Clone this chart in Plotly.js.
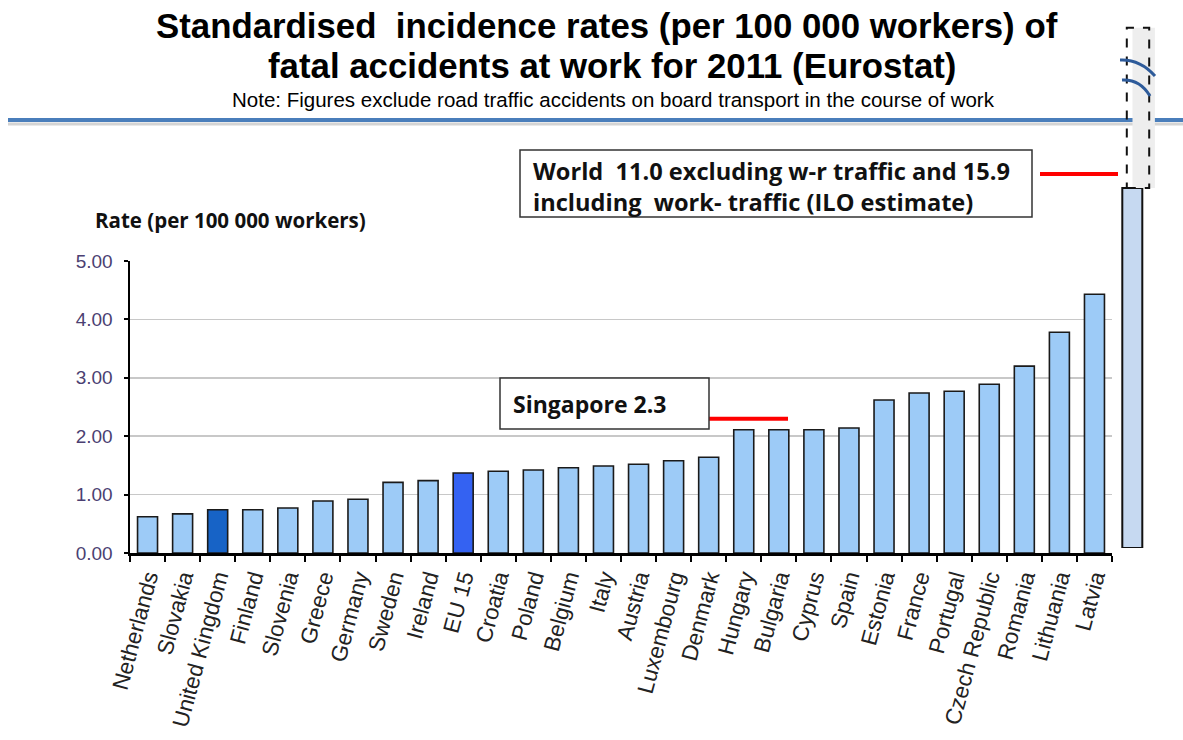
<!DOCTYPE html>
<html><head><meta charset="utf-8">
<script src="https://cdn.plot.ly/plotly-3.0.1.min.js"></script>
<style>body{margin:0;background:#fff}#chart{width:1183px;height:740px}</style>
</head><body><div id="chart"></div>
<script>
// ---- data ----
const countries = ['Netherlands','Slovakia','United Kingdom','Finland','Slovenia','Greece','Germany','Sweden','Ireland','EU 15','Croatia','Poland','Belgium','Italy','Austria','Luxembourg','Denmark','Hungary','Bulgaria','Cyprus','Spain','Estonia','France','Portugal','Czech Republic','Romania','Lithuania','Latvia'];
const rates = [0.62,0.67,0.74,0.74,0.77,0.89,0.92,1.21,1.24,1.37,1.40,1.42,1.46,1.49,1.52,1.58,1.64,2.11,2.11,2.11,2.14,2.62,2.74,2.77,2.89,3.20,3.78,4.43];
const yTickVals = [0,1,2,3,4,5];
const yTickText = ['0.00','1.00','2.00','3.00','4.00','5.00'];
const worldCat = ['World'];
const worldExcl = [11.0];
const worldIncl = [15.9];
const singaporeRate = 2.3;

// ---- helpers (pixel -> paper) ----
const L = 130, R = 20, T = 10, B = 187, W = 1183, H = 740;
const PW = W - L - R, PH = H - T - B;
const px = v => (v - L) / PW;
const py = v => (H - B - v) / PH;

const barColors = countries.map(c => c === 'United Kingdom' ? '#1763c6' : (c === 'EU 15' ? '#3462f2' : '#9dcbf7'));

const traces = [
  {type:'bar', x: countries, y: rates, xaxis:'x', yaxis:'y',
   marker:{color: barColors, line:{color:'#1a1a1a', width:1.6}}, hoverinfo:'x+y'},
  {type:'bar', x: worldCat, y: worldExcl, xaxis:'x2', yaxis:'y2', width:[0.5],
   marker:{color:'#c6d9f1', line:{color:'#111', width:2}}},
  {type:'bar', x: worldCat, y: [worldIncl[0]-worldExcl[0]], base: worldExcl, xaxis:'x2', yaxis:'y2', width:[0.56],
   marker:{color:'#eeeeee', line:{width:0}}}
];

const titleFont = {family:'Liberation Sans, Arial, sans-serif', size:34.8, color:'#000'};
const boxFont = {family:'Open Sans, sans-serif', size:23.6, color:'#111'};

const layout = {
  width: W, height: H,
  margin:{l:L, r:R, t:T, b:B},
  paper_bgcolor:'#fff', plot_bgcolor:'rgba(0,0,0,0)',
  showlegend:false, bargap:0.43,
  xaxis:{domain:[0, px(1112)], type:'category', tickson:'boundaries', ticks:'outside', ticklen:6, tickwidth:2, tickcolor:'#000',
         showline:true, linewidth:2.5, linecolor:'#000', tickangle:-75, showgrid:false,
         tickfont:{family:'Liberation Sans, Arial, sans-serif', size:22.5, color:'#222'}},
  yaxis:{domain:[0, py(261)], range:[0,5], tickvals:yTickVals, ticktext:yTickText, ticks:'outside', ticklen:4, tickwidth:2, tickcolor:'#000',
         ticklabelstandoff:7,
         showline:true, linewidth:2.5, linecolor:'#000', gridcolor:'#c8c8c8', gridwidth:1.5, zeroline:false,
         tickfont:{family:'Liberation Sans, Arial, sans-serif', size:19, color:'#4b3f72'}},
  xaxis2:{domain:[px(1118), px(1158)], anchor:'y2', type:'category', visible:false},
  yaxis2:{domain:[py(548), py(10)], range:[0, 16.44], anchor:'x2', visible:false},
  shapes:[
    {type:'line', xref:'paper', yref:'paper', x0:px(8), x1:px(1183), y0:py(124), y1:py(124), line:{color:'#d4d4d4', width:3}, layer:'below'},
    {type:'line', xref:'paper', yref:'paper', x0:px(8), x1:px(1183), y0:py(120), y1:py(120), line:{color:'#4a7ebb', width:4}, layer:'below'},
    {type:'rect', xref:'x2', yref:'y2', x0:-0.28, x1:0.28, y0:worldExcl[0], y1:worldIncl[0], line:{color:'#111', width:2, dash:'dash'}},
    {type:'path', xref:'paper', yref:'paper', line:{color:'#2e5b9a', width:3},
     path:`M ${px(1120)} ${py(60)} Q ${px(1140)} ${py(59)} ${px(1155)} ${py(76)}`},
    {type:'path', xref:'paper', yref:'paper', line:{color:'#2e5b9a', width:3},
     path:`M ${px(1122)} ${py(80)} Q ${px(1140)} ${py(79)} ${px(1150)} ${py(96)}`},
    {type:'line', xref:'paper', yref:'paper', x0:px(1040), x1:px(1118), y0:py(174), y1:py(174), line:{color:'#ff0000', width:4}},
    {type:'line', xref:'paper', yref:'y', x0:px(678), x1:px(788), y0:singaporeRate, y1:singaporeRate, line:{color:'#ff0000', width:4}},
    {type:'rect', xref:'paper', yref:'paper', x0:px(520), x1:px(1032), y0:py(150), y1:py(217), line:{color:'#333', width:1.5}, fillcolor:'#fff'},
    {type:'rect', xref:'paper', yref:'paper', x0:px(500), x1:px(709), y0:py(378), y1:py(429), line:{color:'#333', width:1.5}, fillcolor:'#fff'}
  ],
  annotations:[
    {xref:'paper', yref:'paper', x:px(607), y:py(25), xanchor:'center', yanchor:'middle', showarrow:false,
     text:'<b>Standardised\u00a0 incidence rates (per 100 000 workers) of</b>', font:titleFont},
    {xref:'paper', yref:'paper', x:px(612), y:py(66), xanchor:'center', yanchor:'middle', showarrow:false,
     text:'<b>fatal accidents at work for 2011 (Eurostat)</b>', font:titleFont},
    {xref:'paper', yref:'paper', x:px(613), y:py(99), xanchor:'center', yanchor:'middle', showarrow:false,
     text:'Note: Figures exclude road traffic accidents on board transport in the course of work', font:{family:'Liberation Sans, Arial, sans-serif', size:20.5, color:'#000'}},
    {xref:'paper', yref:'paper', x:px(93), y:py(220), xanchor:'left', yanchor:'middle', showarrow:false,
     text:'<b>Rate (per 100 000 workers)</b>', font:{family:'Open Sans, sans-serif', size:20.5, color:'#111'}},
    {xref:'paper', yref:'paper', x:px(531), y:py(171), xanchor:'left', yanchor:'middle', showarrow:false, align:'left',
     text:'<b>World\u00a0 11.0 excluding w-r traffic and 15.9</b>', font:boxFont},
    {xref:'paper', yref:'paper', x:px(531), y:py(202), xanchor:'left', yanchor:'middle', showarrow:false, align:'left',
     text:'<b>including\u00a0 work- traffic (ILO estimate)</b>', font:boxFont},
    {xref:'paper', yref:'paper', x:px(511), y:py(404), xanchor:'left', yanchor:'middle', showarrow:false, align:'left',
     text:'<b>Singapore 2.3</b>', font:{family:'Open Sans, sans-serif', size:23, color:'#111'}}
  ]
};

Plotly.newPlot('chart', traces, layout, {displayModeBar:false, staticPlot:true});
</script>
</body></html>
